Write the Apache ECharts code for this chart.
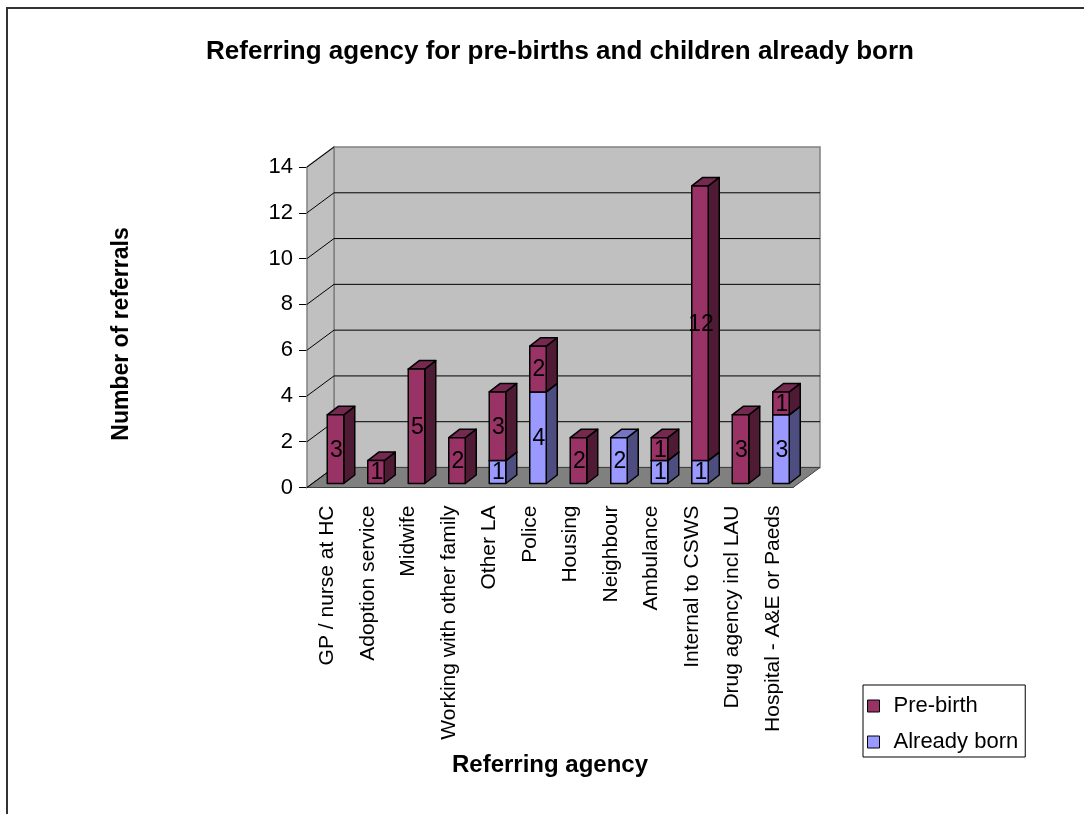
<!DOCTYPE html>
<html>
<head>
<meta charset="utf-8">
<script src="https://cdn.jsdelivr.net/npm/echarts@6/dist/echarts.min.js"></script>
<style>
  html, body { margin: 0; padding: 0; background: #fff; }
  #chart { width: 1084px; height: 814px; }
</style>
</head>
<body>
<div id="chart"></div>
<script>
const categories = [
  'GP / nurse at HC', 'Adoption service', 'Midwife', 'Working with other family',
  'Other LA', 'Police', 'Housing', 'Neighbour', 'Ambulance', 'Internal to CSWS',
  'Drug agency incl LAU', 'Hospital - A&E or Paeds'
];
const alreadyBorn = [0, 0, 0, 0, 1, 4, 0, 2, 1, 1, 0, 3];
const preBirth = [3, 1, 5, 2, 3, 2, 2, 0, 1, 12, 3, 1];
const yTicks = [0, 2, 4, 6, 8, 10, 12, 14];

const FONT = '"Liberation Sans", Arial, sans-serif';
// depth of the fake 3D box and of each bar
const DX = 27, DY = 20;
const BX = 11, BY = 8.5, BW = 16.5, BACK = 4;

const palette = {
  'Pre-birth': { front: '#993366', side: '#4f1a33', top: '#752850' },
  'Already born': { front: '#9999ff', side: '#4d4d80', top: '#7575c4' }
};

const chart = echarts.init(document.getElementById('chart'));

function renderWalls(params, api) {
  const cs = params.coordSys;
  const x0 = cs.x, x1 = cs.x + cs.width, yt = cs.y, yb = cs.y + cs.height;
  return {
    type: 'group',
    children: [
      { type: 'polygon', shape: { points: [[x0 + DX, yt - DY], [x1 + DX, yt - DY], [x1 + DX, yb - DY], [x0 + DX, yb - DY]] },
        style: { fill: '#c0c0c0', stroke: '#808080', lineWidth: 1.5 } },
      { type: 'polygon', shape: { points: [[x0, yb], [x0 + DX, yb - DY], [x0 + DX, yt - DY], [x0, yt]] },
        style: { fill: '#c0c0c0', stroke: '#808080', lineWidth: 1.5 } },
      { type: 'polygon', shape: { points: [[x0, yb], [x1, yb], [x1 + DX, yb - DY], [x0 + DX, yb - DY]] },
        style: { fill: '#808080', stroke: '#404040', lineWidth: 1 } }
    ]
  };
}

function renderGrid(params, api) {
  const cs = params.coordSys;
  const v = api.value(1);
  const y = api.coord([0, v])[1];
  const x0 = cs.x, x1 = cs.x + cs.width;
  const children = [
    { type: 'line', shape: { x1: x0, y1: y, x2: x0 + DX, y2: y - DY }, style: { stroke: '#000', lineWidth: 1 } }
  ];
  if (v > 0 && v < 14) {
    children.push({ type: 'line', shape: { x1: x0 + DX, y1: y - DY, x2: x1 + DX, y2: y - DY }, style: { stroke: '#000', lineWidth: 1 } });
  }
  return { type: 'group', children };
}

function makeBarRenderer(name) {
  const c = palette[name];
  return function (params, api) {
    const i = api.value(0), base = api.value(1), val = api.value(2);
    if (!val) return null;
    const x = api.coord([i, 0])[0];
    const yb = api.coord([i, base])[1] - BACK;
    const yt = api.coord([i, base + val])[1] - BACK;
    const st = { stroke: '#000', lineWidth: 1.5, lineJoin: 'round' };
    return {
      type: 'group',
      children: [
        { type: 'polygon', shape: { points: [[x + BW, yb], [x + BW + BX, yb - BY], [x + BW + BX, yt - BY], [x + BW, yt]] },
          style: Object.assign({ fill: c.side }, st) },
        { type: 'polygon', shape: { points: [[x, yt], [x + BW, yt], [x + BW + BX, yt - BY], [x + BX, yt - BY]] },
          style: Object.assign({ fill: c.top }, st) },
        { type: 'rect', shape: { x: x, y: yt, width: BW, height: yb - yt },
          style: Object.assign({ fill: c.front }, st) },
        { type: 'text', style: { text: String(val), x: x + BW / 2 + 1, y: (yt + yb) / 2 + 1,
          align: 'center', verticalAlign: 'middle', fontSize: 23, fontFamily: FONT, fill: '#000' } }
      ]
    };
  };
}

const option = {
  animation: false,
  backgroundColor: '#fff',
  textStyle: { fontFamily: FONT },
  title: {
    text: 'Referring agency for pre-births and children already born',
    left: 555, top: 34, textAlign: 'center',
    textStyle: { fontSize: 26, fontWeight: 'bold', color: '#000', fontFamily: FONT }
  },
  graphic: [
    { type: 'rect', shape: { x: 7, y: 8, width: 1200, height: 1000 },
      style: { fill: null, stroke: '#333', lineWidth: 2 }, silent: true, z: -10 },
    { type: 'text', x: 122, y: 334, rotation: Math.PI / 2,
      style: { text: 'Number of referrals', align: 'center', verticalAlign: 'middle',
        fontSize: 23, fontWeight: 'bold', fontFamily: FONT, fill: '#000' } }
  ],
  legend: {
    data: ['Pre-birth', 'Already born'],
    orient: 'vertical',
    left: 863, top: 685,
    padding: [9, 7, 3, 4],
    itemGap: 12,
    itemWidth: 12, itemHeight: 12,
    icon: 'rect',
    backgroundColor: '#fff',
    borderColor: '#000', borderWidth: 1, borderRadius: 0,
    itemStyle: { borderColor: '#000', borderWidth: 1 },
    textStyle: { fontSize: 22, lineHeight: 24, color: '#000', fontFamily: FONT, padding: [0, 0, 0, 9] }
  },
  grid: { left: 307, right: 291, top: 167, bottom: 326.5 },
  xAxis: {
    type: 'category',
    data: categories,
    name: 'Referring agency',
    nameLocation: 'middle',
    nameGap: 266,
    nameTextStyle: { fontSize: 24, fontWeight: 'bold', color: '#000', fontFamily: FONT },
    axisLine: { lineStyle: { color: '#000', width: 1 } },
    axisTick: { length: 7, lineStyle: { color: '#000' } },
    axisLabel: { rotate: 90, margin: 18, fontSize: 21, color: '#000', fontFamily: FONT, interval: 0 },
    splitLine: { show: false }
  },
  yAxis: {
    type: 'value',
    min: 0, max: 14, interval: 2,
    axisLine: { show: true, lineStyle: { color: '#000', width: 1 } },
    axisTick: { show: true, length: 8, lineStyle: { color: '#000' } },
    axisLabel: { margin: 14, fontSize: 22, color: '#000', fontFamily: FONT },
    splitLine: { show: false }
  },
  series: [
    { type: 'custom', name: 'walls', renderItem: renderWalls, data: [[0, 0]], z: 1, silent: true },
    { type: 'custom', name: 'gridlines', renderItem: renderGrid, data: yTicks.map(v => [0, v]), z: 2, silent: true },
    {
      type: 'custom', name: 'Already born', z: 3,
      itemStyle: { color: palette['Already born'].front },
      renderItem: makeBarRenderer('Already born'),
      data: categories.map((c, i) => [i, 0, alreadyBorn[i]])
    },
    {
      type: 'custom', name: 'Pre-birth', z: 4,
      itemStyle: { color: palette['Pre-birth'].front },
      renderItem: makeBarRenderer('Pre-birth'),
      data: categories.map((c, i) => [i, alreadyBorn[i], preBirth[i]])
    }
  ]
};

chart.setOption(option);
</script>
</body>
</html>
